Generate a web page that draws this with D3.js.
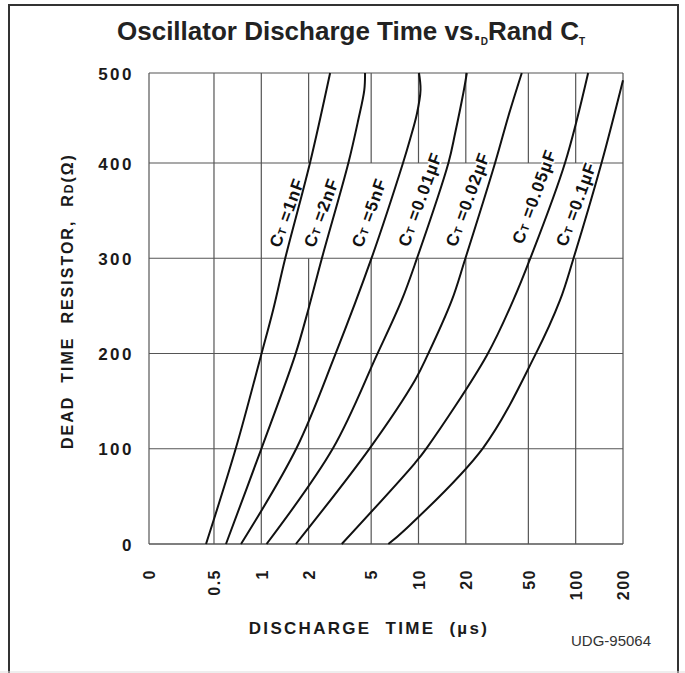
<!DOCTYPE html>
<html><head><meta charset="utf-8">
<script src="https://cdn.jsdelivr.net/npm/d3@7"></script>
<style>
body{margin:0;background:#fff}
svg{display:block}
text{font-family:"Liberation Sans",Arial,Helvetica,sans-serif}
</style>
</head><body>
<svg id="chart" width="685" height="673"></svg>
<script>
// ---------- data ----------
// left edge of the log axis is labelled "0"
const xTickValues = [0.193, 0.5, 1, 2, 5, 10, 20, 50, 100, 200];
const xTickLabels = ["0", "0.5", "1", "2", "5", "10", "20", "50", "100", "200"];
const yTickValues = [0, 100, 200, 300, 400, 500];

const seriesNames = ["1nF", "2nF", "5nF", "0.01µF", "0.02µF", "0.05µF", "0.1µF"];

// [discharge time (µs), dead time resistor (Ω)]
const ct1nF  = [[0.445,0],[0.69,101],[1.0,199],[1.19,246],[1.415,299],[2.04,400],[2.74,500]];
const ct2nF  = [[0.596,0],[1.006,101],[1.64,198],[1.99,246],[2.42,299],[3.58,400],[4.14,448],[4.52,481],[4.57,500]];
const ct5nF  = [[0.743,0],[1.68,101],[2.94,198],[5.0,299],[7.97,400],[8.83,426],[9.78,455],[10.3,481],[10.07,500]];
const ct10nF = [[1.08,0],[2.87,101],[5.42,198],[7.82,256],[9.74,299],[15.5,400],[17.1,433],[19.3,478],[20.3,500]];
const ct20nF = [[1.66,0],[4.92,101],[9.5,172],[11.4,198],[16.3,256],[19.8,299],[30.7,400],[37.3,452],[45.4,500]];
const ct50nF = [[3.25,0],[9.5,85],[11.3,101],[27.2,198],[40.1,256],[51.2,299],[85.5,400],[120,500]];
const ct100nF= [[6.43,0],[8.21,15],[25.8,101],[55.1,198],[79.5,256],[96.5,299],[146,400],[200,492]];
const seriesData = [ct1nF, ct2nF, ct5nF, ct10nF, ct20nF, ct50nF, ct100nF];

// label anchor (time, resistance) for each curve label
const labelT = [1.45, 2.4, 4.84, 10.2, 20.5, 54.3, 100.4];
const labelR = [348, 348, 348, 362, 362, 365, 357];

// ---------- layout ----------
const svg = d3.select("#chart");
const L = 149, R = 623, T = 73, B = 544, Y400 = 163;
const gridColor = "#555";

const x = d3.scaleLog().domain([xTickValues[0], xTickValues[xTickValues.length-1]]).range([L, R]);
const y = d3.scaleLinear().domain([0, 400, 500]).range([B, Y400, T]);

// outer frame
svg.append("rect").attr("x", 9).attr("y", 5).attr("width", 669).attr("height", 720)
  .attr("fill", "none").attr("stroke", "#333").attr("stroke-width", 2);
svg.append("line").attr("x1", 0).attr("x2", 685).attr("y1", 672).attr("y2", 672)
  .attr("stroke", "#ddd").attr("stroke-width", 1);

// title
const title = svg.append("text").attr("x", 117).attr("y", 40)
  .attr("font-size", 26).attr("font-weight", "bold").attr("fill", "#222");
title.append("tspan").text("Oscillator Discharge Time vs.");
title.append("tspan").attr("font-size", 10).attr("dy", 5).text("D");
title.append("tspan").attr("font-size", 26).attr("dy", -5).text("Rand C");
title.append("tspan").attr("font-size", 10).attr("dy", 5).text("T");

// grid
const grid = svg.append("g").attr("stroke", gridColor).attr("stroke-width", 1.2).attr("fill", "none");
xTickValues.forEach((v) => {
  const segs = (v >= 2 && v < 200) ? [[0, 300], [400, 500]] : [[0, 500]];
  segs.forEach(s => grid.append("line")
    .attr("x1", x(v)).attr("x2", x(v)).attr("y1", y(s[0])).attr("y2", y(s[1])));
});
yTickValues.forEach((v) => {
  grid.append("line").attr("x1", L).attr("x2", R).attr("y1", y(v)).attr("y2", y(v))
    .attr("stroke-width", v === 0 ? 1.7 : 1.2);
});

// axes (labels)
const yAxis = svg.append("g").attr("transform", `translate(${L},0)`)
  .call(d3.axisLeft(y).tickValues(yTickValues).tickSize(0).tickPadding(15).tickFormat(d3.format("d")));
yAxis.select(".domain").remove();
yAxis.selectAll("text").attr("font-size", 17).attr("font-weight", "bold")
  .attr("letter-spacing", 2.5).attr("fill", "#1a1a1a").attr("dy", "0.36em")
  .attr("font-family", '"Liberation Sans",Arial,sans-serif');

const xAxis = svg.append("g").attr("transform", `translate(0,${B})`)
  .call(d3.axisBottom(x).tickValues(xTickValues).tickSize(0).tickFormat((d, i) => xTickLabels[i]));
xAxis.select(".domain").remove();
xAxis.selectAll("text")
  .attr("transform", "rotate(-90)").attr("text-anchor", "end")
  .attr("x", -25).attr("y", 0).attr("dy", "0.36em")
  .attr("font-size", 16).attr("font-weight", "bold").attr("letter-spacing", 1.5)
  .attr("fill", "#1a1a1a").attr("font-family", '"Liberation Sans",Arial,sans-serif');

// axis titles
svg.append("text").attr("x", 369).attr("y", 634).attr("text-anchor", "middle")
  .attr("font-size", 17).attr("font-weight", "bold").attr("letter-spacing", 2.3)
  .attr("fill", "#1a1a1a").style("white-space", "pre")
  .text("DISCHARGE  TIME  (µs)");

const yt = svg.append("text").attr("transform", "translate(73,301) rotate(-90)")
  .attr("text-anchor", "middle").attr("font-size", 16).attr("font-weight", "bold")
  .attr("letter-spacing", 2).attr("fill", "#1a1a1a").style("white-space", "pre");
yt.append("tspan").text("DEAD  TIME  RESISTOR,  R");
yt.append("tspan").attr("font-size", 12).text("D");
yt.append("tspan").text("(Ω)");

// curve labels (white halo knocks out grid lines behind them)
seriesNames.forEach((name, i) => {
  const t = svg.append("text")
    .attr("transform", `translate(${x(labelT[i])},${y(labelR[i])}) rotate(-70)`)
    .attr("text-anchor", "middle").attr("dy", "0.36em")
    .attr("font-size", 17).attr("font-weight", "bold").attr("letter-spacing", 1.2).attr("fill", "#111")
    .attr("stroke", "#fff").attr("stroke-width", 3).attr("paint-order", "stroke")
    .style("white-space", "pre");
  t.append("tspan").text("C");
  t.append("tspan").attr("font-size", 11).text("T");
  t.append("tspan").text(" =" + name);
});

// curves
const line = d3.line().x(d => x(d[0])).y(d => y(d[1])).curve(d3.curveCatmullRom.alpha(0.5));
svg.append("g").selectAll("path").data(seriesData).join("path")
  .attr("d", line).attr("fill", "none").attr("stroke", "#111").attr("stroke-width", 2);

// figure id
svg.append("text").attr("x", 571).attr("y", 646).attr("font-size", 15)
  .attr("fill", "#333").text("UDG-95064");
</script>
</body></html>
